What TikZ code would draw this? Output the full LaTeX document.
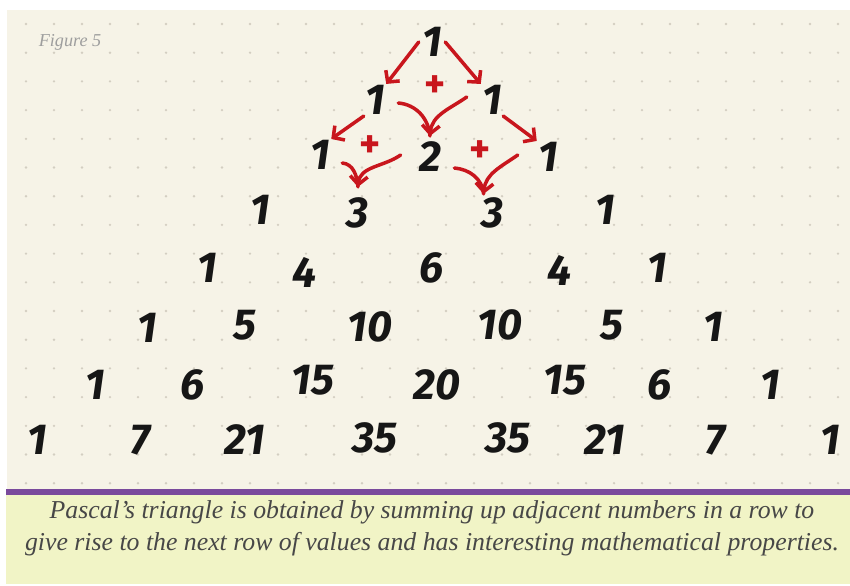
\documentclass[tikz,border=0pt]{standalone}
\usepackage{fontspec}
\usetikzlibrary{arrows.meta}
\newfontfamily\handfont{Fira Sans}
\newfontfamily\capfont{Liberation Serif}
\definecolor{paper}{HTML}{F6F3E7}
\definecolor{dotc}{HTML}{D3CEC1}
\definecolor{band}{HTML}{7A4A9C}
\definecolor{capbg}{HTML}{F1F4C6}
\definecolor{ink}{HTML}{161616}
\definecolor{pen}{HTML}{C8161D}

\begin{document}
\begin{tikzpicture}[x=0.03cm, y=-0.03cm, >={Straight Barb[length=7pt,width=15pt]},
      num/.style={font=\handfont\bfseries\itshape\fontsize{37}{37}\selectfont,
                  text=ink, inner sep=1pt},
      plus/.style={font=\handfont\bfseries\fontsize{34}{34}\selectfont,
                   text=pen, inner sep=0pt},
      penline/.style={draw=pen, line width=3pt, line cap=round}]
    \useasboundingbox (0,0) rectangle (850,585);
    % paper, band and caption strip
    \fill[paper] (7,10) rectangle (850,489);
    \fill[band] (6,489) rectangle (850,495);
    \fill[capbg] (6,495) rectangle (850,584);
    \foreach \i in {0,...,29}
      \foreach \j in {0,...,16}
        \fill[dotc] (26+28*\i,24+28.7*\j) circle (1.3);
    \node[font=\capfont\itshape\fontsize{15.5}{15.5}\selectfont, text=black!38]
      (fig) at (70,42) {Figure 5};

    % the triangle, row by row
    \node[num] (r0c0) at (432,42) {1};
    \node[num] (r1c0) at (375,100) {1};
    \node[num] (r1c1) at (492,100) {1};
    \node[num] (r2c0) at (320,155) {1};
    \node[num] (r2c1) at (430,157) {2};
    \node[num] (r2c2) at (548,157) {1};
    \node[num] (r3c0) at (260,210) {1};
    \node[num] (r3c1) at (358,213) {3};
    \node[num] (r3c2) at (493,213) {3};
    \node[num] (r3c3) at (605,210) {1};
    \node[num] (r4c0) at (207,268) {1};
    \node[num] (r4c1) at (305,272) {4};
    \node[num] (r4c2) at (432,268) {6};
    \node[num] (r4c3) at (560,270) {4};
    \node[num] (r4c4) at (657,268) {1};
    \node[num] (r5c0) at (147,328) {1};
    \node[num] (r5c1) at (245,325) {5};
    \node[num] (r5c2) at (370,327) {10};
    \node[num] (r5c3) at (500,325) {10};
    \node[num] (r5c4) at (612,325) {5};
    \node[num] (r5c5) at (713,327) {1};
    \node[num] (r6c0) at (95,385) {1};
    \node[num] (r6c1) at (193,385) {6};
    \node[num] (r6c2) at (313,380) {15};
    \node[num] (r6c3) at (437,385) {20};
    \node[num] (r6c4) at (565,380) {15};
    \node[num] (r6c5) at (660,385) {6};
    \node[num] (r6c6) at (770,385) {1};
    \node[num] (r7c0) at (37,440) {1};
    \node[num] (r7c1) at (140,440) {7};
    \node[num] (r7c2) at (245,440) {21};
    \node[num] (r7c3) at (375,438) {35};
    \node[num] (r7c4) at (508,438) {35};
    \node[num] (r7c5) at (605,440) {21};
    \node[num] (r7c6) at (715,440) {7};
    \node[num] (r7c7) at (830,440) {1};

    % red pen: edges and sums
    \node[plus] (p1) at (435,87) {+};
    \node[plus] (p2) at (370,147) {+};
    \node[plus] (p3) at (480,152) {+};
    \draw[penline,->] (r0c0.west) ++(-2,0) -- (r1c0.north east);
    \draw[penline,->] (r0c0.east) ++(2,0) -- (r1c1.north west);
    \draw[penline,->] (r1c0.south west) -- (r2c0.north east);
    \draw[penline,->] (r1c1.south east) -- (r2c2.north west);
    \draw[penline] (r1c0.east) ++(12,3) to[out=-5,in=95] ([yshift=4pt]r2c1.north);
    \draw[penline,->] (r1c1.west) ++(-14,-3) to[out=215,in=85] ([yshift=4pt]r2c1.north);
    \draw[penline] (r2c0.east) ++(11,8) to[out=-5,in=95] ([yshift=8pt]r3c1.north);
    \draw[penline,->] (r2c1.west) ++(-17,-2) to[out=215,in=85] ([yshift=8pt]r3c1.north);
    \draw[penline] (r2c1.east) ++(12,11) to[out=-5,in=95] ([xshift=-8pt,yshift=2pt]r3c2.north);
    \draw[penline,->] (r2c2.west) ++(-19,-2) to[out=215,in=85] ([xshift=-8pt,yshift=2pt]r3c2.north);

    \node[font=\capfont\itshape\fontsize{22}{27}\selectfont, text=black!72,
          align=center] (cap) at (432,528)
      {Pascal’s triangle is obtained by summing up adjacent numbers in a row to\\
       give rise to the next row of values and has interesting mathematical properties.};
  \end{tikzpicture}
\end{document}
